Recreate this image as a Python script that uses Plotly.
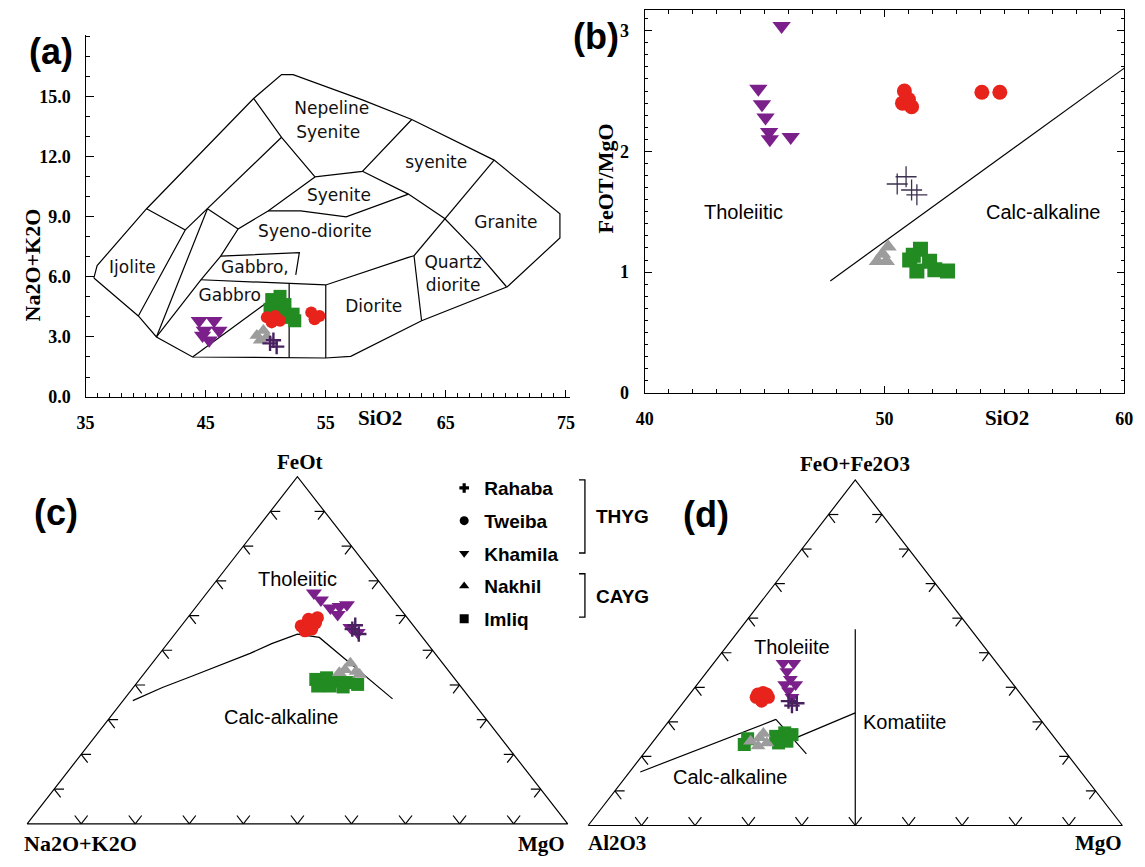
import plotly.graph_objects as go

W, H = 1145, 867
OFF = 8  # the page body adds an 8 px margin around the figure
SERIF = "Liberation Serif"
SANS = "Liberation Sans"

# ---------------- Panel (a): TAS plutonic diagram ----------------
tas_outer = [(35.69, 5.95), (35.96, 6.57), (40.08, 9.41), (48.99, 14.92), (51.32, 16.11),
             (52.28, 16.11), (58.1, 14.84), (62.16, 13.87), (69.02, 11.84), (74.5, 9.16),
             (74.5, 7.95), (70.12, 5.51), (62.98, 3.81), (57.08, 2.03), (54.97, 1.95),
             (43.91, 2.0), (40.9, 3.0), (39.39, 4.05), (35.69, 5.95)]
tas_ijolite = [(40.08, 9.41), (43.3, 8.35), (39.39, 4.05)]
tas_inner1 = [(43.3, 8.35), (45.15, 9.41), (51.32, 12.98)]
tas_short = [(45.15, 9.41), (47.7, 8.4)]
tas_steep = [(45.15, 9.41), (40.9, 3.0)]
tas_inner2 = [(40.9, 3.0), (44.6, 5.86), (46.25, 7.04), (47.7, 8.4), (50.2, 9.3), (54.1, 11.0)]
tas_nesy = [(48.99, 14.92), (51.32, 12.98), (54.1, 11.0), (58.05, 11.28), (62.16, 13.87)]
tas_cross_a = [(58.05, 11.28), (61.88, 10.14), (64.9, 8.92), (67.5, 7.3), (70.05, 5.51)]
tas_cross_b = [(69.02, 11.84), (64.9, 8.92), (62.35, 7.06)]
tas_syenite_base = [(50.2, 9.3), (52.9, 9.3), (56.7, 9.0), (61.88, 10.14)]
tas_diorite_top = [(44.6, 5.86), (51.95, 5.68), (55.0, 5.6), (61.88, 6.98), (62.35, 7.06)]
tas_qdiorite = [(62.35, 7.06), (62.98, 3.81)]
tas_div1 = [(51.95, 5.68), (51.95, 1.97)]
tas_div2 = [(55.0, 5.6), (55.0, 1.95)]
tas_gabbro_top = [(46.25, 7.04), (52.8, 7.22), (52.5, 6.1)]
tas_gabbro_diag = [(43.91, 2.0), (50.5, 4.9)]

tas_field_names = ["Nepeline", "Syenite", "syenite", "Syenite", "Syeno-diorite", "Gabbro,",
                   "Gabbro", "Ijolite", "Granite", "Quartz", "diorite", "Diorite"]
tas_field_x = [55.5, 55.2, 64.2, 56.1, 54.1, 49.1, 47.0, 38.9, 70.0, 65.6, 65.6, 59.0]
tas_field_y = [14.36, 13.14, 11.68, 10.02, 8.19, 6.41, 5.03, 6.41, 8.68, 6.65, 5.51, 4.46]

a_yticks = [0, 3, 6, 9, 12, 15]
a_xticks = [35, 45, 55, 65, 75]

a_rahaba_sio2 = [50.36, 50.91, 50.64]
a_rahaba_alk = [2.68, 2.52, 2.84]
a_tweiba_sio2 = [50.09, 50.78, 50.5, 51.19, 53.79, 54.48, 54.07]
a_tweiba_alk = [3.98, 4.05, 3.73, 3.81, 4.22, 4.05, 3.89]
a_khamila_sio2 = [44.46, 45.7, 44.88, 46.11, 45.29, 44.74]
a_khamila_alk = [3.81, 3.81, 3.32, 3.32, 2.84, 3.08]
a_nakhil_sio2 = [49.26, 49.81, 49.54, 50.09]
a_nakhil_alk = [3.08, 3.32, 2.84, 3.0]
a_imliq_sio2 = [50.5, 51.19, 50.78, 51.6, 52.28, 52.42, 51.73, 50.36]
a_imliq_alk = [4.87, 5.03, 4.46, 4.62, 4.14, 3.81, 3.98, 4.38]

# ---------------- Panel (b): FeOT/MgO vs SiO2 ----------------
b_divide_sio2 = [47.74, 60.0]
b_divide_ratio = [0.927, 2.69]
b_rahaba_sio2 = [50.53, 50.9, 51.13, 51.35]
b_rahaba_ratio = [1.73, 1.79, 1.68, 1.64]
b_tweiba_sio2 = [50.83, 50.75, 51.13, 51.0, 54.06, 54.81]
b_tweiba_ratio = [2.50, 2.40, 2.37, 2.43, 2.49, 2.49]
b_khamila_sio2 = [45.71, 44.74, 44.89, 45.04, 45.19, 45.22, 46.09]
b_khamila_ratio = [3.04, 2.52, 2.39, 2.28, 2.16, 2.10, 2.12]
b_nakhil_sio2 = [50.15, 49.7, 49.92, 50.08]
b_nakhil_ratio = [1.21, 1.09, 1.15, 1.09]
b_imliq_sio2 = [51.05, 51.5, 51.88, 52.1, 52.63, 51.35, 51.2]
b_imliq_ratio = [1.10, 1.19, 1.09, 1.02, 1.01, 1.01, 1.14]

# ---------------- Panel (c): AFM (FeOt, Na2O+K2O, MgO) in % ----------------
c_divide = [(35.5, 62.7, 1.8), (39.3, 55.4, 5.4), (42.5, 48.3, 9.2), (45.8, 41.3, 12.9),
            (49.1, 34.2, 16.7), (51.9, 28.8, 19.3), (54.7, 22.7, 22.7), (53.7, 19.1, 27.2),
            (44.9, 16.8, 38.4), (36.0, 14.4, 49.6)]
c_rahaba = [(56.1, 11.8, 32.1), (54.7, 11.3, 34.0), (57.2, 10.7, 32.1)]
c_tweiba = [(57.0, 20.8, 22.2), (58.9, 18.5, 22.6), (57.9, 17.7, 24.4), (55.6, 20.8, 23.6),
            (56.1, 19.3, 24.6), (59.4, 16.6, 24.0)]
c_khamila = [(66.5, 13.7, 19.8), (64.5, 13.4, 22.1), (62.1, 12.8, 25.0), (62.6, 10.9, 26.5),
             (63.1, 9.3, 27.6), (60.3, 12.4, 27.3), (56.5, 11.9, 31.5), (55.1, 11.3, 33.6)]
c_nakhil = [(46.3, 17.1, 36.7), (44.4, 19.0, 36.6), (43.9, 17.2, 38.9), (43.0, 17.0, 40.0),
            (43.5, 20.5, 36.0)]
c_imliq = [(41.6, 25.8, 32.6), (42.1, 23.6, 34.4), (41.1, 22.0, 36.9), (40.7, 20.2, 39.1),
           (40.2, 18.8, 41.1), (39.7, 26.4, 33.9), (39.7, 24.1, 36.2), (39.4, 21.8, 38.7)]

# ---------------- Panel (d): Jensen (FeO+Fe2O3, Al2O3, MgO) in % ----------------
d_line_ca = [(15.5, 82.5, 2.0), (30.7, 49.5, 19.8)]
d_line_short = [(30.7, 49.5, 19.8), (20.7, 48.8, 30.5)]
d_line_th = [(25.4, 48.5, 26.2), (32.6, 33.7, 33.7)]
d_line_kom = [(56.8, 21.6, 21.6), (0.0, 50.0, 50.0)]
d_rahaba = [(36.0, 44.5, 19.5), (35.4, 43.3, 21.4), (34.7, 44.5, 20.8)]
d_tweiba = [(37.1, 50.0, 12.9), (38.5, 48.0, 13.5), (37.1, 47.7, 15.2), (36.0, 49.6, 14.5),
            (38.0, 47.5, 14.4), (38.0, 49.2, 12.7)]
d_khamila = [(46.9, 40.0, 13.0), (46.9, 38.0, 15.0), (44.6, 40.5, 14.9), (42.3, 41.0, 16.7),
             (40.8, 42.8, 16.4), (40.8, 40.7, 18.4), (39.0, 43.0, 18.0), (37.1, 43.3, 19.6)]
d_nakhil = [(24.4, 57.4, 18.2), (25.4, 55.2, 19.4), (23.9, 54.6, 21.5), (23.0, 56.7, 20.3),
            (26.6, 53.9, 19.5)]
d_imliq = [(23.5, 59.1, 17.5), (25.1, 57.6, 17.3), (25.8, 52.0, 22.2), (26.8, 49.8, 23.4),
           (26.3, 48.7, 25.0), (24.4, 50.6, 25.0), (23.9, 52.4, 23.7)]

tern_tick_fracs = [0.1, 0.2, 0.3, 0.4, 0.5, 0.6, 0.7, 0.8, 0.9]

group_names = ["Rahaba", "Tweiba", "Khamila", "Nakhil", "Imliq"]
# --------------------------------------------------------------------

style = {
    "Rahaba": dict(symbol="cross-thin", color="#4a2160"),
    "Tweiba": dict(symbol="circle", color="#e8231c"),
    "Khamila": dict(symbol="triangle-down", color="#7b1f8b"),
    "Nakhil": dict(symbol="triangle-up", color="#9c9c9c"),
    "Imliq": dict(symbol="square", color="#228b22"),
}
legend_symbol = {"Rahaba": "cross", "Tweiba": "circle", "Khamila": "triangle-down",
                 "Nakhil": "triangle-up", "Imliq": "square"}


def fx(p):
    return (p - OFF) / W


def fy(p):
    return 1 - (p - OFF) / H


def clamp(v):
    return min(1.0, max(0.0, v))


def dom(p0, p1, r0, r1, lo, hi, vertical=False):
    """pixel p0 shows value r0, pixel p1 shows value r1 -> domain for range [lo, hi]"""
    s = (p1 - p0) / (r1 - r0)
    a = p0 + (lo - r0) * s
    b = p0 + (hi - r0) * s
    if vertical:
        return [clamp(fy(max(a, b))), clamp(fy(min(a, b)))]
    return [clamp(fx(min(a, b))), clamp(fx(max(a, b)))]


def proj(pt):
    a, b, c = pt
    s = a + b + c
    a, c = a / s, c / s
    return c + a / 2.0, a


# ternary frames in screen pixels: (u=0 px, u=1 px, v=0 px, v=1 px)
TERN_C = (18.3, 567.5, 833.3, 481.7)
TERN_D = (588.3, 1131.0, 835.0, 485.0)


def tern_paper(frame, u, v):
    u0, u1, v0, v1 = frame
    return fx(u0 + u * (u1 - u0)), fy(v0 + v * (v1 - v0))


fig = go.Figure()


def add_lines(lines, xa, ya, tern=False, width=1.3, color="black"):
    xs, ys = [], []
    for ln in lines:
        for p in ln:
            x, y = proj(p) if tern else p
            xs.append(x)
            ys.append(y)
        xs.append(None)
        ys.append(None)
    fig.add_trace(go.Scatter(x=xs, y=ys, mode="lines", xaxis=xa, yaxis=ya,
                             line=dict(color=color, width=width), showlegend=False,
                             hoverinfo="skip"))


def add_group(name, xs, ys, xa, ya, size, cross_w=2.4):
    st = style[name]
    if st["symbol"] == "cross-thin":
        marker = dict(symbol="cross-thin", size=size + 2, color=st["color"],
                      line=dict(color=st["color"], width=cross_w))
    else:
        marker = dict(symbol=st["symbol"], size=size, color=st["color"], line=dict(width=0))
    fig.add_trace(go.Scatter(x=xs, y=ys, mode="markers", xaxis=xa, yaxis=ya, marker=marker,
                             showlegend=False, name=name))


# ---- panel (a)
add_lines([tas_outer, tas_ijolite, tas_inner1, tas_short, tas_steep, tas_inner2, tas_nesy,
           tas_cross_a, tas_cross_b, tas_syenite_base, tas_diorite_top, tas_qdiorite,
           tas_div1, tas_div2, tas_gabbro_top, tas_gabbro_diag], "x", "y", width=1.2)
add_group("Imliq", a_imliq_sio2, a_imliq_alk, "x", "y", 13)
add_group("Nakhil", a_nakhil_sio2, a_nakhil_alk, "x", "y", 13)
add_group("Khamila", a_khamila_sio2, a_khamila_alk, "x", "y", 15)
add_group("Tweiba", a_tweiba_sio2, a_tweiba_alk, "x", "y", 12)
add_group("Rahaba", a_rahaba_sio2, a_rahaba_alk, "x", "y", 9)
fig.add_trace(go.Scatter(x=tas_field_x, y=tas_field_y, text=tas_field_names, mode="text",
                         xaxis="x", yaxis="y",
                         textfont=dict(family="DejaVu Sans", size=17, color="#111"),
                         showlegend=False, hoverinfo="skip", cliponaxis=False))

# ---- panel (b)
add_lines([list(zip(b_divide_sio2, b_divide_ratio))], "x2", "y2", width=1.2)
add_group("Khamila", b_khamila_sio2, b_khamila_ratio, "x2", "y2", 16)
add_group("Tweiba", b_tweiba_sio2, b_tweiba_ratio, "x2", "y2", 15)
add_group("Nakhil", b_nakhil_sio2, b_nakhil_ratio, "x2", "y2", 15)
add_group("Imliq", b_imliq_sio2, b_imliq_ratio, "x2", "y2", 15)
fig.add_trace(go.Scatter(x=b_rahaba_sio2, y=b_rahaba_ratio, mode="markers", xaxis="x2",
                         yaxis="y2", showlegend=False, name="Rahaba",
                         marker=dict(symbol="cross-thin", size=15,
                                     line=dict(color="#3c3050", width=1.3))))


# ---- ternary frames and ticks
def tern_frame(xa, ya):
    fx_ = [0, 1, 0.5, 0, None]
    fy_ = [0, 0, 1, 0, None]
    h = 10.0 / 548.0   # horizontal stroke (~10 px)
    d = 0.024          # stroke parallel to the other side (~10 px)
    for t in tern_tick_fracs:
        x0, y0 = t / 2, t                      # left edge
        fx_ += [x0, x0 + h, None, x0, x0 + 0.5 * d, None]
        fy_ += [y0, y0, None, y0, y0 - d, None]
        x0, y0 = 1 - t / 2, t                  # right edge
        fx_ += [x0, x0 - h, None, x0, x0 - 0.5 * d, None]
        fy_ += [y0, y0, None, y0, y0 - d, None]
        x0, y0 = t, 0                          # base
        fx_ += [x0, x0 - 0.5 * d, None, x0, x0 + 0.5 * d, None]
        fy_ += [y0, d, None, y0, d, None]
    fig.add_trace(go.Scatter(x=fx_, y=fy_, mode="lines", xaxis=xa, yaxis=ya,
                             line=dict(color="black", width=1.2), showlegend=False,
                             hoverinfo="skip"))


def add_tern_group(name, pts, xa, ya, size):
    xs = [proj(p)[0] for p in pts]
    ys = [proj(p)[1] for p in pts]
    add_group(name, xs, ys, xa, ya, size)


tern_frame("x3", "y3")
add_lines([c_divide], "x3", "y3", tern=True, width=1.2)
add_tern_group("Imliq", c_imliq, "x3", "y3", 13)
add_tern_group("Nakhil", c_nakhil, "x3", "y3", 13)
add_tern_group("Tweiba", c_tweiba, "x3", "y3", 13)
add_tern_group("Khamila", c_khamila, "x3", "y3", 14)
add_tern_group("Rahaba", c_rahaba, "x3", "y3", 9)

tern_frame("x4", "y4")
add_lines([d_line_ca, d_line_short, d_line_th, d_line_kom], "x4", "y4", tern=True, width=1.2)
add_tern_group("Imliq", d_imliq, "x4", "y4", 13)
add_tern_group("Nakhil", d_nakhil, "x4", "y4", 13)
add_tern_group("Tweiba", d_tweiba, "x4", "y4", 13)
add_tern_group("Khamila", d_khamila, "x4", "y4", 13)
add_tern_group("Rahaba", d_rahaba, "x4", "y4", 9)

# legend entries (black symbols as in the original key)
for name in group_names:
    fig.add_trace(go.Scatter(x=[None], y=[None], mode="markers", name=name,
                             legendgroup=name, xaxis="x", yaxis="y",
                             marker=dict(symbol=legend_symbol[name], color="black",
                                         size=9 if name != "Rahaba" else 8)))

# ---------------- layout ----------------
axis_font = dict(family=SERIF, size=18, color="black", weight="bold")
hidden = dict(visible=False, showgrid=False, zeroline=False, fixedrange=True)
cu0, cu1, cv0, cv1 = TERN_C
du0, du1, dv0, dv1 = TERN_D

layout = dict(
    width=W, height=H, margin=dict(l=0, r=0, t=0, b=0),
    paper_bgcolor="white", plot_bgcolor="rgba(0,0,0,0)",
    showlegend=True,
    legend=dict(x=fx(442), y=fy(474), xanchor="left", yanchor="top",
                bgcolor="rgba(0,0,0,0)", tracegroupgap=5, itemwidth=30,
                font=dict(family=SANS, size=19, color="black", weight="bold")),
    xaxis=dict(domain=dom(77.7, 565.7, 35, 75, 35, 75.3), range=[35, 75.3], anchor="y",
               showline=True, linecolor="black", linewidth=1.3, showgrid=False,
               zeroline=False, ticks="inside", ticklen=7, tickwidth=1.2, tickcolor="black",
               tickmode="array", tickvals=a_xticks, tickfont=axis_font,
               ticklabelstandoff=9,
               minor=dict(ticks="inside", dtick=1, ticklen=4, tickcolor="black", tickwidth=1)),
    yaxis=dict(domain=dom(401, 97, 0, 15, 0, 18.1, vertical=True), range=[0, 18.1],
               anchor="x", showline=True, linecolor="black", linewidth=1.3, showgrid=False,
               zeroline=False, ticks="inside", ticklen=8, tickwidth=1.2, tickcolor="black",
               tickmode="array", tickvals=a_yticks, tickformat=".1f", tickfont=axis_font,
               ticklabelstandoff=10,
               minor=dict(ticks="inside", dtick=1, ticklen=4, tickcolor="black", tickwidth=1)),
    xaxis2=dict(domain=dom(645.7, 1133, 40, 60, 40, 60), range=[40, 60], anchor="y2",
                showline=True, linecolor="black", linewidth=1.3, mirror="allticks",
                showgrid=False, zeroline=False, ticks="inside", ticklen=7, tickwidth=1.2,
                tickcolor="black", tick0=40, dtick=10, tickfont=axis_font,
                ticklabelstandoff=9,
                minor=dict(ticks="inside", dtick=1, ticklen=4, tickcolor="black", tickwidth=1)),
    yaxis2=dict(domain=dom(396.7, 30, 0, 3, 0, 3.175, vertical=True), range=[0, 3.175],
                anchor="x2", showline=True, linecolor="black", linewidth=1.3,
                mirror="allticks", showgrid=False, zeroline=False, ticks="inside", ticklen=7,
                tickwidth=1.2, tickcolor="black", tick0=0, dtick=1, tickfont=axis_font,
                ticklabelstandoff=11,
                minor=dict(ticks="inside", dtick=0.1, ticklen=3, tickcolor="black",
                           tickwidth=1)),
    xaxis3=dict(domain=dom(cu0, cu1, 0, 1, -0.015, 1.02), range=[-0.015, 1.02],
                anchor="y3", **hidden),
    yaxis3=dict(domain=dom(cv0, cv1, 0, 1, -0.02, 1.02, vertical=True),
                range=[-0.02, 1.02], anchor="x3", **hidden),
    xaxis4=dict(domain=dom(du0, du1, 0, 1, -0.02, 1.02), range=[-0.02, 1.02],
                anchor="y4", **hidden),
    yaxis4=dict(domain=dom(dv0, dv1, 0, 1, -0.02, 1.02, vertical=True),
                range=[-0.02, 1.02], anchor="x4", **hidden),
)

ann = []


def label(text, x, y, size, family=SANS, bold=False, xref="paper", yref="paper",
          angle=0, xanchor="center"):
    ann.append(dict(text=text, x=x, y=y, xref=xref, yref=yref, showarrow=False,
                    textangle=angle, xanchor=xanchor, yanchor="middle",
                    font=dict(family=family, size=size, color="black",
                              weight="bold" if bold else "normal")))


def tlabel(frame, text, u, v, size, family=SANS, bold=False, xanchor="center"):
    x, y = tern_paper(frame, u, v)
    label(text, x, y, size, family=family, bold=bold, xanchor=xanchor)


# panel tags
label("(a)", fx(43), fy(51), 36, bold=True)
label("(b)", fx(596), fy(36), 36, bold=True)
label("(c)", fx(48), fy(518), 36, bold=True)
label("(d)", fx(708), fy(520), 36, bold=True)
# axis titles
label("Na2O+K2O", fx(24), fy(267), 22, family=SERIF, bold=True, angle=-90)
label("SiO2", fx(377), fy(422), 21, family=SERIF, bold=True)
label("FeOT/MgO", fx(606), fy(180), 22, family=SERIF, bold=True, angle=-90)
label("SiO2", fx(1014), fy(422), 21, family=SERIF, bold=True)
# panel (b) fields
label("Tholeiitic", 44.14, 1.5, 20, xref="x2", yref="y2")
label("Calc-alkaline", 56.62, 1.5, 20, xref="x2", yref="y2")
# panel (c)
tlabel(TERN_C, "FeOt", 0.503, 1.043, 21, family=SERIF, bold=True)
tlabel(TERN_C, "Na2O+K2O", 0.099, -0.057, 22, family=SERIF, bold=True)
tlabel(TERN_C, "MgO", 0.952, -0.057, 21, family=SERIF, bold=True)
tlabel(TERN_C, "Tholeiitic", 0.5, 0.706, 20)
tlabel(TERN_C, "Calc-alkaline", 0.47, 0.308, 20)
# panel (d)
tlabel(TERN_D, "FeO+Fe2O3", 0.5, 1.045, 21, family=SERIF, bold=True)
tlabel(TERN_D, "Al2O3", 0.054, -0.05, 21, family=SERIF, bold=True)
tlabel(TERN_D, "MgO", 0.956, -0.05, 21, family=SERIF, bold=True)
tlabel(TERN_D, "Tholeiite", 0.382, 0.516, 20)
tlabel(TERN_D, "Komatiite", 0.511, 0.300, 20, xanchor="left")
tlabel(TERN_D, "Calc-alkaline", 0.267, 0.141, 20)
# series groups
label("THYG", fx(594), fy(522), 19, bold=True, xanchor="left")
label("CAYG", fx(594), fy(603), 19, bold=True, xanchor="left")

shapes = []
for (top, bot) in [(485, 559), (580, 624)]:
    shapes.append(dict(type="path", xref="paper", yref="paper",
                       path="M %f %f L %f %f L %f %f L %f %f" % (
                           fx(579), fy(top), fx(585), fy(top), fx(585), fy(bot),
                           fx(579), fy(bot)),
                       line=dict(color="black", width=1.3)))

layout["annotations"] = ann
layout["shapes"] = shapes
fig.update_layout(**layout)
fig.write_html("out.html")
